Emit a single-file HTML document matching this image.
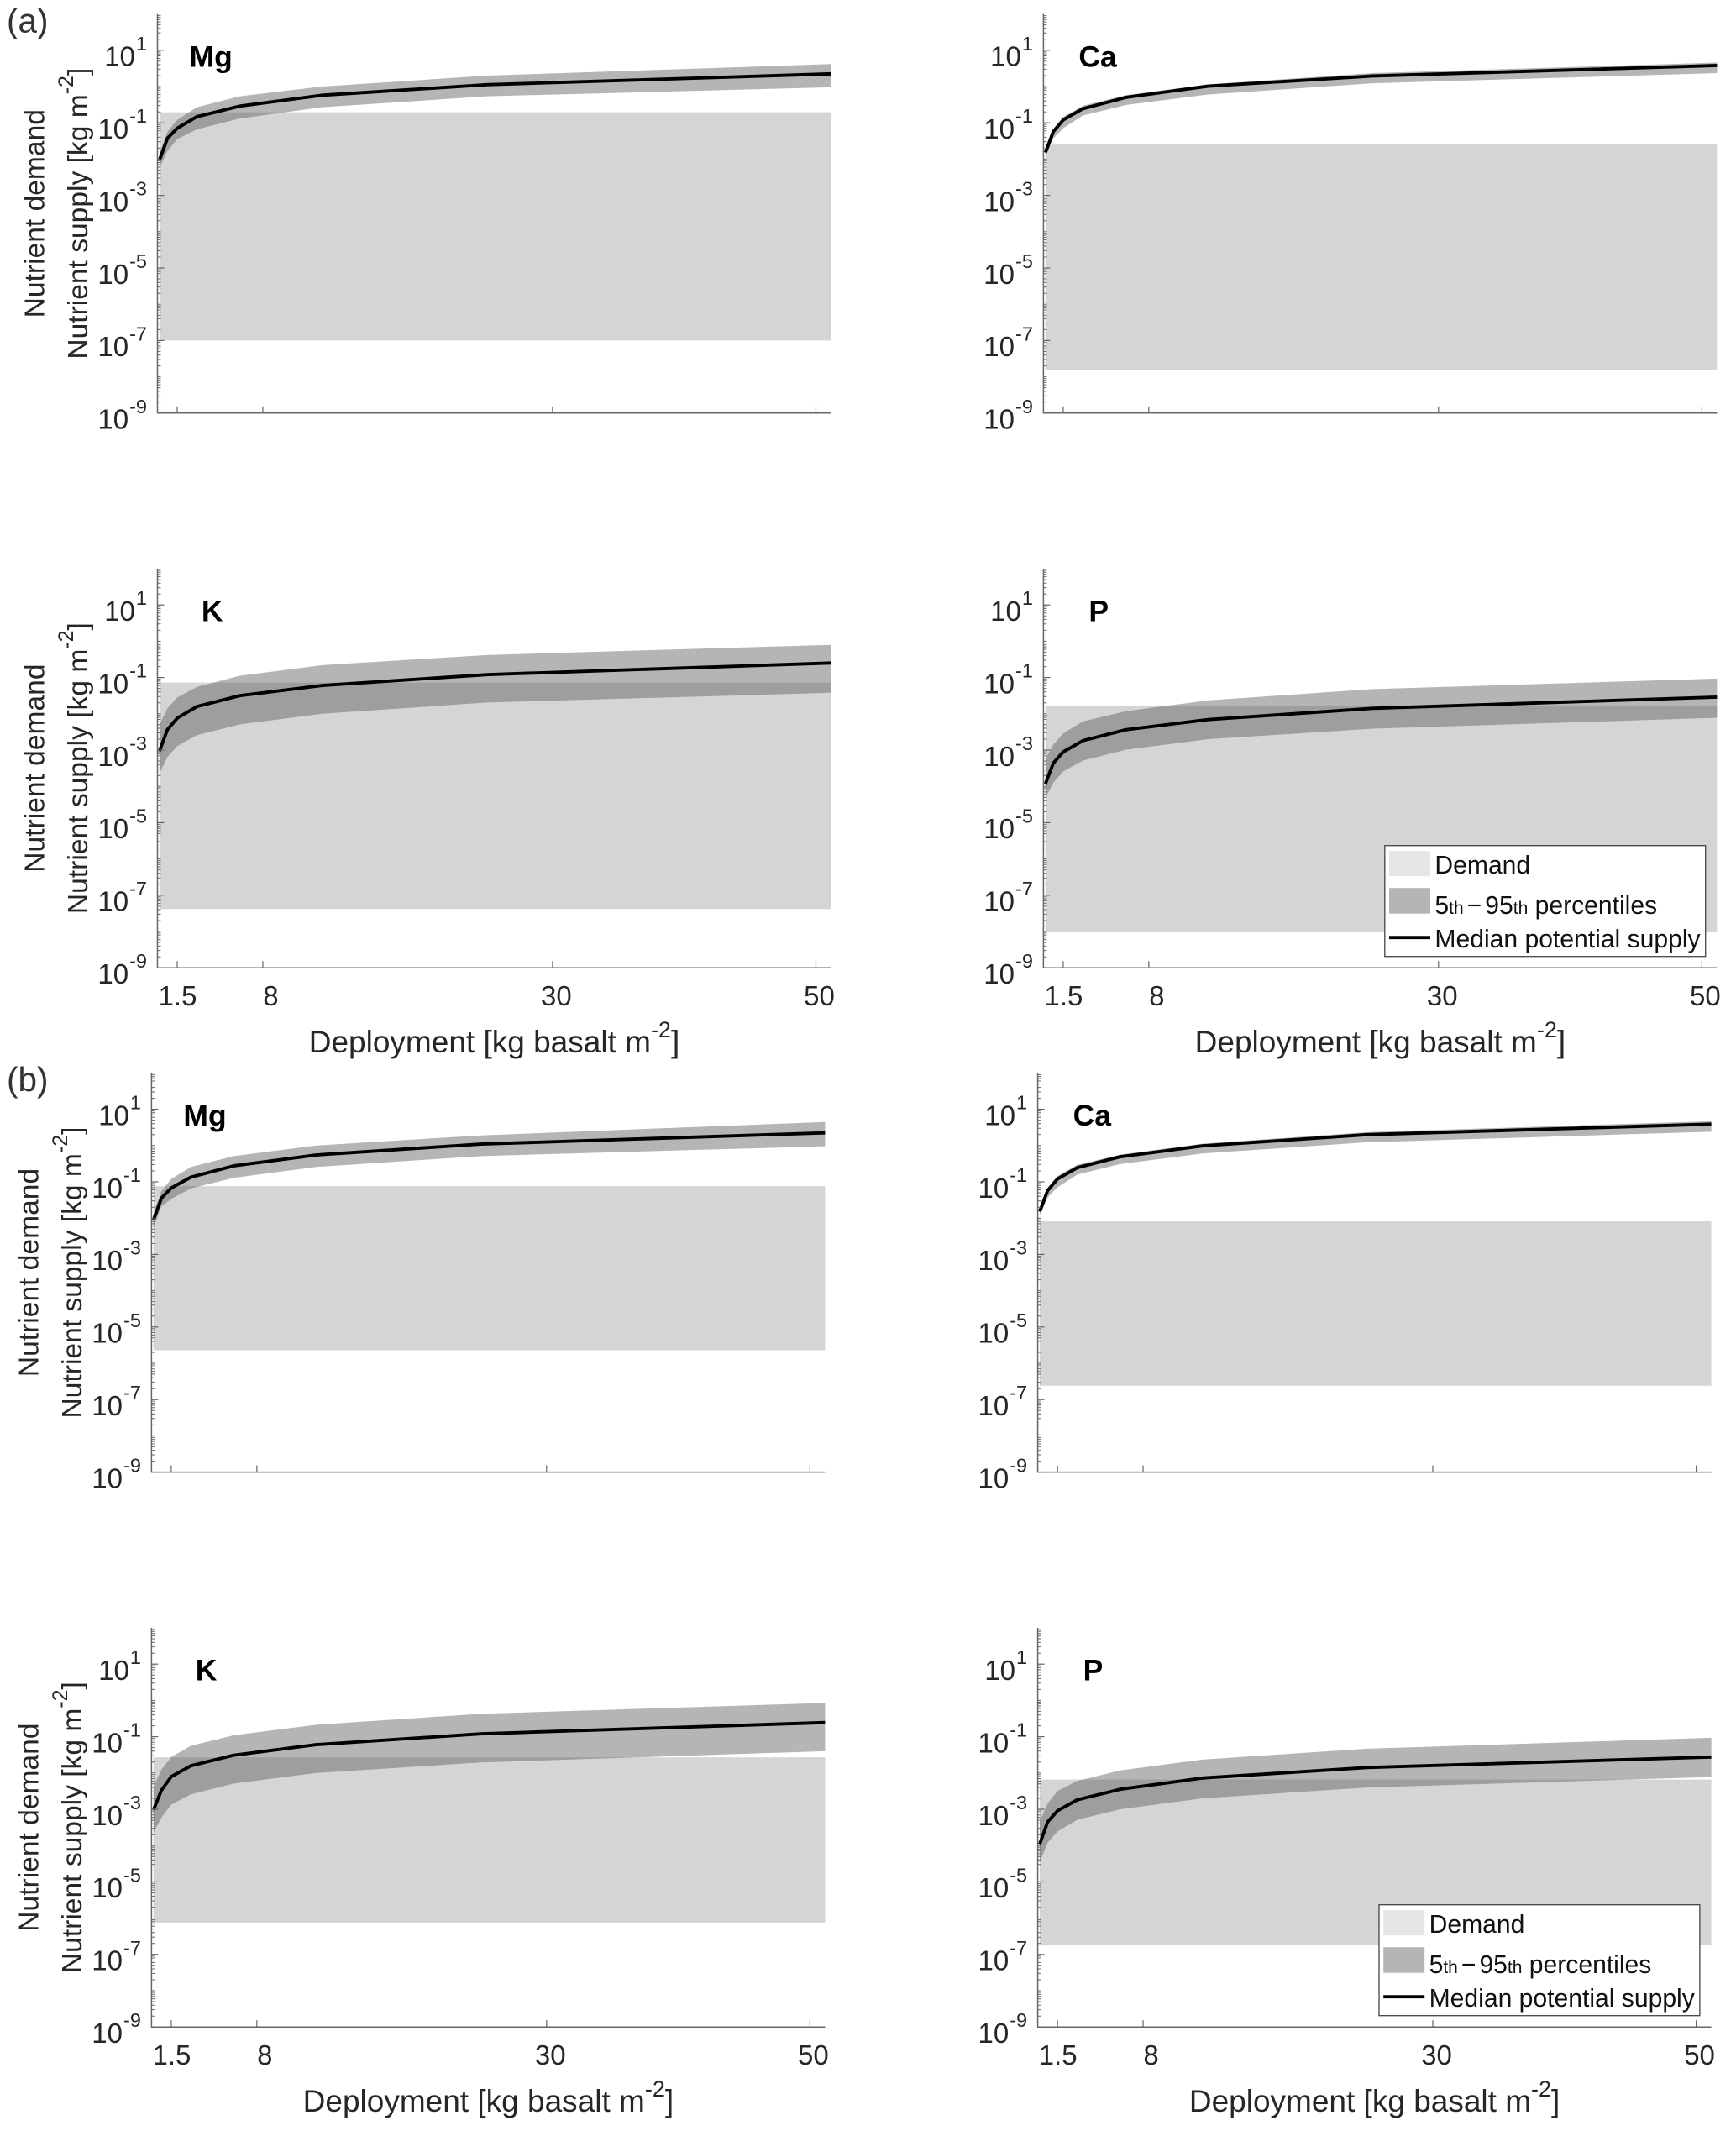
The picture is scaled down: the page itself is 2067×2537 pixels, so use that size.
<!DOCTYPE html>
<html lang="en">
<head>
<meta charset="utf-8">
<title>Nutrient supply and demand versus basalt deployment</title>
<style>
html,body{margin:0;padding:0;background:#fff;width:2067px;height:2537px;overflow:hidden}
svg{display:block;font-family:"Liberation Sans",Arial,sans-serif;fill:#262626}
.ytitle{font-size:33.6px;text-anchor:middle}
.xtitle{font-size:37px;text-anchor:middle}
.elem{font-size:35.5px;font-weight:bold;fill:#000}
.tag{font-size:40.5px;fill:#333}
.tick{font-size:33px}
.leg{font-size:30.1px;fill:#111}
</style>
</head>
<body>
<svg id="figure" width="2067" height="2537" viewBox="0 0 2067 2537" xmlns="http://www.w3.org/2000/svg">
<rect width="2067" height="2537" fill="#fff"/>
<text class="tag" x="8" y="38.5">(a)</text>
<text class="tag" x="8" y="1299">(b)</text>

<g transform="translate(187.5,491.8)">
<g id="plot-aMg"></g>
<text class="ytitle" transform="translate(-134.8,-237.6) rotate(-90)">Nutrient demand</text>
<text class="ytitle" transform="translate(-83.5,-237.6) rotate(-90)">Nutrient supply [kg m<tspan dy="-17" font-size="25">-2</tspan><tspan dy="17">]</tspan></text>
<text class="elem" x="38" y="-412.5">Mg</text>
</g>

<g transform="translate(1242.4,491.8)">
<g id="plot-aCa"></g>
<text class="elem" x="42" y="-412.5">Ca</text>
</g>

<g transform="translate(187.5,1152.2)">
<g id="plot-aK"></g>
<text class="ytitle" transform="translate(-134.8,-237.6) rotate(-90)">Nutrient demand</text>
<text class="ytitle" transform="translate(-83.5,-237.6) rotate(-90)">Nutrient supply [kg m<tspan dy="-17" font-size="25">-2</tspan><tspan dy="17">]</tspan></text>
<text class="elem" x="52.4" y="-412.5">K</text>
<text class="xtitle" x="401" y="100.7">Deployment [kg basalt m<tspan dy="-18" font-size="27">-2</tspan><tspan dy="18">]</tspan></text>
</g>

<g transform="translate(1242.4,1152.2)">
<g id="plot-aP"></g>
<text class="elem" x="54" y="-412.5">P</text>
<text class="xtitle" x="401" y="100.7">Deployment [kg basalt m<tspan dy="-18" font-size="27">-2</tspan><tspan dy="18">]</tspan></text>
<g>
<rect x="406.4" y="-145.5" width="381.9" height="132" fill="#fff" stroke="#444" stroke-width="1.3"/>
<rect x="411.6" y="-139" width="49" height="30" fill="#e6e6e6"/>
<text class="leg" x="466" y="-112">Demand</text>
<rect x="411.6" y="-95" width="49" height="30.5" fill="#b5b5b5"/>
<text class="leg" x="466" y="-64">5<tspan font-size="21">th</tspan><tspan dx="4">−</tspan><tspan dx="4">95</tspan><tspan font-size="21">th</tspan> percentiles</text>
<line x1="411.6" x2="460.6" y1="-36" y2="-36" stroke="#000" stroke-width="3.8"/>
<text class="leg" x="466" y="-24">Median potential supply</text>
</g>
</g>

<g transform="translate(180.4,1752.6)">
<g id="plot-bMg"></g>
<text class="ytitle" transform="translate(-134.8,-237.6) rotate(-90)">Nutrient demand</text>
<text class="ytitle" transform="translate(-83.5,-237.6) rotate(-90)">Nutrient supply [kg m<tspan dy="-17" font-size="25">-2</tspan><tspan dy="17">]</tspan></text>
<text class="elem" x="38" y="-412.5">Mg</text>
</g>

<g transform="translate(1235.6,1752.6)">
<g id="plot-bCa"></g>
<text class="elem" x="42" y="-412.5">Ca</text>
</g>

<g transform="translate(180.4,2413.2)">
<g id="plot-bK"></g>
<text class="ytitle" transform="translate(-134.8,-237.6) rotate(-90)">Nutrient demand</text>
<text class="ytitle" transform="translate(-83.5,-237.6) rotate(-90)">Nutrient supply [kg m<tspan dy="-17" font-size="25">-2</tspan><tspan dy="17">]</tspan></text>
<text class="elem" x="52.4" y="-412.5">K</text>
<text class="xtitle" x="401" y="100.7">Deployment [kg basalt m<tspan dy="-18" font-size="27">-2</tspan><tspan dy="18">]</tspan></text>
</g>

<g transform="translate(1235.6,2413.2)">
<g id="plot-bP"></g>
<text class="elem" x="54" y="-412.5">P</text>
<text class="xtitle" x="401" y="100.7">Deployment [kg basalt m<tspan dy="-18" font-size="27">-2</tspan><tspan dy="18">]</tspan></text>
<g>
<rect x="406.4" y="-145.5" width="381.9" height="132" fill="#fff" stroke="#444" stroke-width="1.3"/>
<rect x="411.6" y="-139" width="49" height="30" fill="#e6e6e6"/>
<text class="leg" x="466" y="-112">Demand</text>
<rect x="411.6" y="-95" width="49" height="30.5" fill="#b5b5b5"/>
<text class="leg" x="466" y="-64">5<tspan font-size="21">th</tspan><tspan dx="4">−</tspan><tspan dx="4">95</tspan><tspan font-size="21">th</tspan> percentiles</text>
<line x1="411.6" x2="460.6" y1="-36" y2="-36" stroke="#000" stroke-width="3.8"/>
<text class="leg" x="466" y="-24">Median potential supply</text>
</g>
</g>
</svg>

<script>
// Shared x values: deployment in kg basalt per m2.
const deployment = [0.15, 0.75, 1.5, 3, 6.25, 12.5, 25, 51.15];
const xTickValues = [1.5, 8, 30, 50];
const xTickLabels = ["1.5", "8", "30", "50"];
const yTickExponents = [1, -1, -3, -5, -7, -9];
const yTickLabels = ["1", "-1", "-3", "-5", "-7", "-9"];

// All y values below are log10 of kg per m2.
const aMgUpper  = [-1.85, -1.25, -0.92, -0.57, -0.27, 0.00, 0.30, 0.62];
const aMgMedian = [-2.03, -1.43, -1.15, -0.83, -0.54, -0.24, 0.05, 0.35];
const aMgLower  = [-2.24, -1.78, -1.45, -1.18, -0.88, -0.57, -0.27, -0.02];
const aMgDemand = [-7.00, -0.71];

const aCaUpper  = [-1.74, -1.18, -0.84, -0.53, -0.24, 0.06, 0.37, 0.66];
const aCaMedian = [-1.82, -1.24, -0.92, -0.61, -0.30, 0.01, 0.29, 0.58];
const aCaLower  = [-1.93, -1.43, -1.15, -0.80, -0.51, -0.22, 0.09, 0.37];
const aCaDemand = [-7.81, -1.60];

const aKUpper  = [-2.30, -1.85, -1.55, -1.26, -0.95, -0.66, -0.38, -0.10];
const aKMedian = [-3.03, -2.44, -2.12, -1.80, -1.50, -1.22, -0.92, -0.60];
const aKLower  = [-3.65, -3.19, -2.89, -2.59, -2.29, -2.00, -1.69, -1.42];
const aKDemand = [-7.38, -1.14];

const aPUpper  = [-3.24, -2.85, -2.54, -2.21, -1.93, -1.63, -1.32, -1.03];
const aPMedian = [-3.93, -3.36, -3.05, -2.74, -2.44, -2.16, -1.85, -1.54];
const aPLower  = [-4.32, -3.90, -3.59, -3.29, -2.99, -2.70, -2.41, -2.11];
const aPDemand = [-8.02, -1.77];

const bMgUpper  = [-1.88, -1.26, -0.92, -0.59, -0.29, 0.00, 0.28, 0.65];
const bMgMedian = [-2.05, -1.45, -1.17, -0.87, -0.56, -0.26, 0.04, 0.35];
const bMgLower  = [-2.26, -1.68, -1.47, -1.18, -0.89, -0.59, -0.29, -0.02];
const bMgDemand = [-5.64, -1.12];

const bCaUpper  = [-1.74, -1.18, -0.84, -0.53, -0.25, 0.05, 0.37, 0.67];
const bCaMedian = [-1.82, -1.24, -0.92, -0.61, -0.31, -0.01, 0.30, 0.59];
const bCaLower  = [-1.93, -1.43, -1.15, -0.80, -0.51, -0.22, 0.09, 0.38];
const bCaDemand = [-6.62, -2.09];

const bKUpper  = [-2.38, -1.91, -1.56, -1.25, -0.96, -0.67, -0.37, -0.07];
const bKMedian = [-3.02, -2.48, -2.10, -1.80, -1.51, -1.22, -0.92, -0.61];
const bKLower  = [-3.65, -3.23, -2.87, -2.59, -2.29, -2.00, -1.71, -1.40];
const bKDemand = [-6.12, -1.57];

const bPUpper  = [-3.34, -2.84, -2.50, -2.22, -1.93, -1.63, -1.33, -1.03];
const bPMedian = [-3.96, -3.35, -3.04, -2.74, -2.45, -2.14, -1.85, -1.56];
const bPLower  = [-4.46, -3.92, -3.61, -3.29, -3.00, -2.70, -2.40, -2.11];
const bPDemand = [-6.74, -2.18];

const panels = [
  {id: "aMg", upper: aMgUpper, median: aMgMedian, lower: aMgLower, demand: aMgDemand, xLabels: false},
  {id: "aCa", upper: aCaUpper, median: aCaMedian, lower: aCaLower, demand: aCaDemand, xLabels: false},
  {id: "aK",  upper: aKUpper,  median: aKMedian,  lower: aKLower,  demand: aKDemand,  xLabels: true},
  {id: "aP",  upper: aPUpper,  median: aPMedian,  lower: aPLower,  demand: aPDemand,  xLabels: true},
  {id: "bMg", upper: bMgUpper, median: bMgMedian, lower: bMgLower, demand: bMgDemand, xLabels: false},
  {id: "bCa", upper: bCaUpper, median: bCaMedian, lower: bCaLower, demand: bCaDemand, xLabels: false},
  {id: "bK",  upper: bKUpper,  median: bKMedian,  lower: bKLower,  demand: bKDemand,  xLabels: true},
  {id: "bP",  upper: bPUpper,  median: bPMedian,  lower: bPLower,  demand: bPDemand,  xLabels: true}
];

// Axis functions: plot-local pixels, origin at the lower-left axis corner.
const xDomainMax = 51.15;
const plotWidth = 802;
const decadeHeight = 43.2;
const yDomainMin = -9;
const yDomainMax = 2;
function xScale(v) { return v / xDomainMax * plotWidth; }
function yScale(e) { return -(e - yDomainMin) * decadeHeight; }

const SVG_NS = "http://www.w3.org/2000/svg";
function make(parent, tag, attrs) {
  const node = document.createElementNS(SVG_NS, tag);
  for (const key in attrs) node.setAttribute(key, attrs[key]);
  parent.appendChild(node);
  return node;
}
function pointList(xs, ys) {
  return xs.map(function (x, i) { return xScale(x).toFixed(2) + "," + yScale(ys[i]).toFixed(2); });
}
// The source figure's x tick labels sit slightly right of their ticks.
function xLabelNudge(i) { return [0.5, 9.5, 4.5, 4][i]; }

panels.forEach(function (p) {
  const root = document.getElementById("plot-" + p.id);

  const demand = make(root, "rect", {
    x: xScale(deployment[0]),
    y: yScale(p.demand[1]),
    width: xScale(deployment[deployment.length - 1]) - xScale(deployment[0]),
    height: yScale(p.demand[0]) - yScale(p.demand[1]),
    fill: "#d5d5d5"
  });
  
  

  const band = make(root, "polygon", {
    points: pointList(deployment, p.upper).concat(pointList(deployment, p.lower).reverse()).join(" "),
    fill: "rgb(91,91,91)",
    "fill-opacity": 0.452
  });
  
  

  const line = make(root, "polyline", {
    points: pointList(deployment, p.median).join(" "),
    fill: "none",
    stroke: "#000",
    "stroke-width": 3.9,
    "stroke-linejoin": "round"
  });
  
  

  const yAxis = make(root, "line", {x1: 0, x2: 0, y1: yScale(yDomainMin) + 0.7, y2: yScale(yDomainMax), stroke: "#666", "stroke-width": 1.5});
  
  

  const xAxis = make(root, "line", {x1: 0, x2: plotWidth, y1: 0, y2: 0, stroke: "#666", "stroke-width": 1.5});
  
  

  // Minor y ticks for each decade.
  const minorPath = [];
  for (let d = yDomainMin; d < yDomainMax; d++) {
    for (let m = 1; m <= 9; m++) {
      const e = d + Math.log10(m);
      if (m === 1 && yTickExponents.indexOf(d) >= 0) continue;
      minorPath.push("M0 " + yScale(e).toFixed(2) + "H4");
    }
  }
  const minor = make(root, "path", {d: minorPath.join(""), stroke: "#666", "stroke-width": 1, fill: "none"});
  
  

  yTickExponents.forEach(function (e, i) {
    const tick = make(root, "line", {x1: 0, x2: 8, y1: yScale(e), y2: yScale(e), stroke: "#666", "stroke-width": 1.2});
    
    

    const label = make(root, "text", {class: "tick", x: -12.5, y: yScale(e) + 18.8, "text-anchor": "end"});
    
    
    label.appendChild(document.createTextNode("10"));
    const power = make(label, "tspan", {dy: -18.8, dx: 1, "font-size": 23.5});
    power.textContent = yTickLabels[i];
  });

  xTickValues.forEach(function (v, i) {
    const tick = make(root, "line", {x1: xScale(v), x2: xScale(v), y1: 0, y2: -8, stroke: "#666", "stroke-width": 1.2});
    
    

    if (p.xLabels) {
      const label = make(root, "text", {class: "tick", x: xScale(v) + xLabelNudge(i), y: 44.6, "text-anchor": "middle"});
      
      
      label.textContent = xTickLabels[i];
    }
  });
});
</script>
</body>
</html>
